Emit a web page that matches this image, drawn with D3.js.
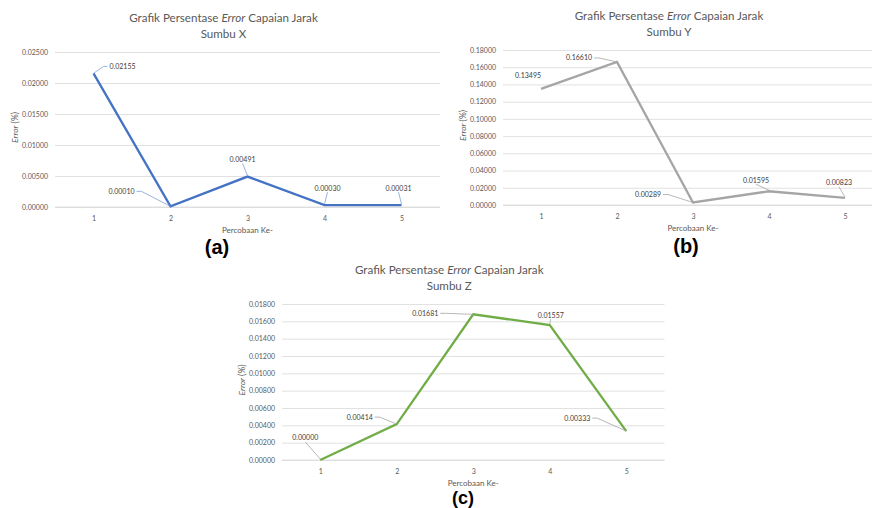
<!DOCTYPE html>
<html>
<head>
<meta charset="utf-8">
<script src="https://cdn.jsdelivr.net/npm/d3@7"></script>
<style>
  html, body { margin: 0; padding: 0; background: #fff; }
  svg { display: block; }
</style>
</head>
<body>
<svg id="fig" width="872" height="508"></svg>
<script>
// ---- data ----
const trials = ["1", "2", "3", "4", "5"];

const errorX = [0.02155, 0.00010, 0.00491, 0.00030, 0.00031];
const errorY = [0.13495, 0.16610, 0.00289, 0.01595, 0.00823];
const errorZ = [0.00000, 0.00414, 0.01681, 0.01557, 0.00333];

const ticksX = [0, 0.005, 0.010, 0.015, 0.020, 0.025];
const ticksY = [0, 0.02, 0.04, 0.06, 0.08, 0.10, 0.12, 0.14, 0.16, 0.18];
const ticksZ = [0, 0.002, 0.004, 0.006, 0.008, 0.010, 0.012, 0.014, 0.016, 0.018];

const axisNames = ["Sumbu X", "Sumbu Y", "Sumbu Z"];
const panelTags = ["(a)", "(b)", "(c)"];

// ---- layout for each panel ----
// label: offset of the value label centre from its point, and the kind of leader line
const panels = [
  {
    values: errorX, ticks: ticksX, name: axisNames[0], tag: panelTags[0],
    tagX: 217, tagY: 254, tagSize: 20,
    left: 55, right: 440, top: 52, bottom: 207,
    color: "#4472C4", leader: "#7F9FD8",
    labels: [
      { dx: 29, dy: -7, lead: "left" },
      { dx: -49, dy: -15, lead: "right" },
      { dx: -5, dy: -17, lead: "below" },
      { dx: 3, dy: -17, lead: "below" },
      { dx: -3, dy: -17, lead: "below" }
    ]
  },
  {
    values: errorY, ticks: ticksY, name: axisNames[1], tag: panelTags[1],
    tagX: 686, tagY: 253, tagSize: 20,
    left: 503, right: 883, top: 50, bottom: 205,
    color: "#A5A5A5", leader: "#A6A6A6",
    labels: [
      { dx: -13, dy: -13, lead: "none" },
      { dx: -38, dy: -4, lead: "right" },
      { dx: -45, dy: -8, lead: "right" },
      { dx: -13, dy: -11, lead: "below" },
      { dx: -6, dy: -15, lead: "below" }
    ]
  },
  {
    values: errorZ, ticks: ticksZ, name: axisNames[2], tag: panelTags[2],
    tagX: 463, tagY: 504, tagSize: 18,
    left: 282, right: 664.5, top: 304, bottom: 460,
    color: "#70AD47", leader: "#A6A6A6",
    labels: [
      { dx: -15, dy: -22, lead: "below" },
      { dx: -37, dy: -7, lead: "right" },
      { dx: -48, dy: -1, lead: "right" },
      { dx: 1, dy: -10, lead: "below" },
      { dx: -49, dy: -13, lead: "right" }
    ]
  }
];

const FONT = "Lato, 'Open Sans', sans-serif";
const TEXT = "#595959";
const GRID = "#D9D9D9";
const fmt = d3.format(".5f");

const svg = d3.select("#fig");

panels.forEach(p => {
  const g = svg.append("g");

  const x = d3.scalePoint().domain(trials).range([p.left, p.right]).padding(0.5);
  const y = d3.scaleLinear()
    .domain([0, p.ticks[p.ticks.length - 1]])
    .range([p.bottom, p.top]);

  const plotMid = (p.left + p.right) / 2;
  const titleX = plotMid - 24;

  // title
  const t1 = g.append("text")
    .attr("x", titleX).attr("y", p.top - 30)
    .attr("text-anchor", "middle")
    .attr("font-family", FONT).attr("font-size", 11.6).attr("fill", TEXT);
  t1.append("tspan").text("Grafik Persentase ");
  t1.append("tspan").attr("font-style", "italic").text("Error");
  t1.append("tspan").text(" Capaian Jarak");
  g.append("text")
    .attr("x", titleX).attr("y", p.top - 14.5)
    .attr("text-anchor", "middle")
    .attr("font-family", FONT).attr("font-size", 11.6).attr("fill", TEXT)
    .text(p.name);

  // value axis: gridlines and tick labels
  const yAxis = d3.axisLeft(y)
    .tickValues(p.ticks)
    .tickFormat(fmt)
    .tickSize(-(p.right - p.left))
    .tickPadding(7);
  const ya = g.append("g")
    .attr("transform", `translate(${p.left},0)`)
    .call(yAxis);
  ya.select(".domain").remove();
  ya.selectAll(".tick line").attr("stroke", GRID).attr("stroke-width", 0.8);
  ya.selectAll(".tick text")
    .attr("font-family", FONT).attr("font-size", 7).attr("fill", TEXT);

  // category axis labels
  const xAxis = d3.axisBottom(x).tickSize(0).tickPadding(9);
  const xa = g.append("g")
    .attr("transform", `translate(0,${p.bottom})`)
    .call(xAxis);
  xa.select(".domain").attr("stroke", GRID).attr("stroke-width", 0.8)
    .attr("d", `M${p.left},0H${p.right}`);
  xa.selectAll(".tick text")
    .attr("font-family", FONT).attr("font-size", 7).attr("fill", TEXT);

  // axis titles
  g.append("text")
    .attr("x", plotMid).attr("y", p.bottom + 25.5)
    .attr("text-anchor", "middle")
    .attr("font-family", FONT).attr("font-size", 8).attr("fill", TEXT)
    .text("Percobaan Ke-");

  const yt = g.append("text")
    .attr("transform", `translate(${p.left - 37.5},${(p.top + p.bottom) / 2 - 2}) rotate(-90)`)
    .attr("text-anchor", "middle")
    .attr("font-family", FONT).attr("font-size", 8.5).attr("fill", TEXT);
  yt.append("tspan").attr("font-style", "italic").text("Error");
  yt.append("tspan").text(" (%)");

  // series line
  const line = d3.line()
    .x((d, i) => x(trials[i]))
    .y(d => y(d));
  g.append("path")
    .datum(p.values)
    .attr("d", line)
    .attr("fill", "none")
    .attr("stroke", p.color)
    .attr("stroke-width", 2.3)
    .attr("stroke-linejoin", "miter");

  // value labels with leader lines
  const halfW = 13;
  p.values.forEach((v, i) => {
    const px = x(trials[i]), py = y(v);
    const o = p.labels[i];
    const lx = px + o.dx, ly = py + o.dy;
    let pts = null;
    if (o.lead === "right") {
      const sx = lx + halfW + 2;
      pts = [[sx, ly], [sx + 5, ly], [px, py]];
    } else if (o.lead === "left") {
      const sx = lx - halfW - 2;
      pts = [[sx, ly], [sx - 4, ly], [px, py]];
    } else if (o.lead === "below") {
      pts = [[lx, ly + 4], [px, py - 1]];
    }
    if (pts) {
      g.append("path")
        .attr("d", d3.line()(pts))
        .attr("fill", "none")
        .attr("stroke", p.leader)
        .attr("stroke-width", 0.8);
    }
    g.append("text")
      .attr("x", lx).attr("y", ly)
      .attr("dy", "0.35em")
      .attr("text-anchor", "middle")
      .attr("font-family", FONT).attr("font-size", 7).attr("fill", "#404040")
      .text(fmt(v));
  });

  // panel tag
  g.append("text")
    .attr("x", p.tagX).attr("y", p.tagY)
    .attr("text-anchor", "middle")
    .attr("font-family", "'Liberation Sans', Arial, sans-serif")
    .attr("font-weight", "bold").attr("font-size", p.tagSize).attr("fill", "#000")
    .text(p.tag);
});
</script>
</body>
</html>
